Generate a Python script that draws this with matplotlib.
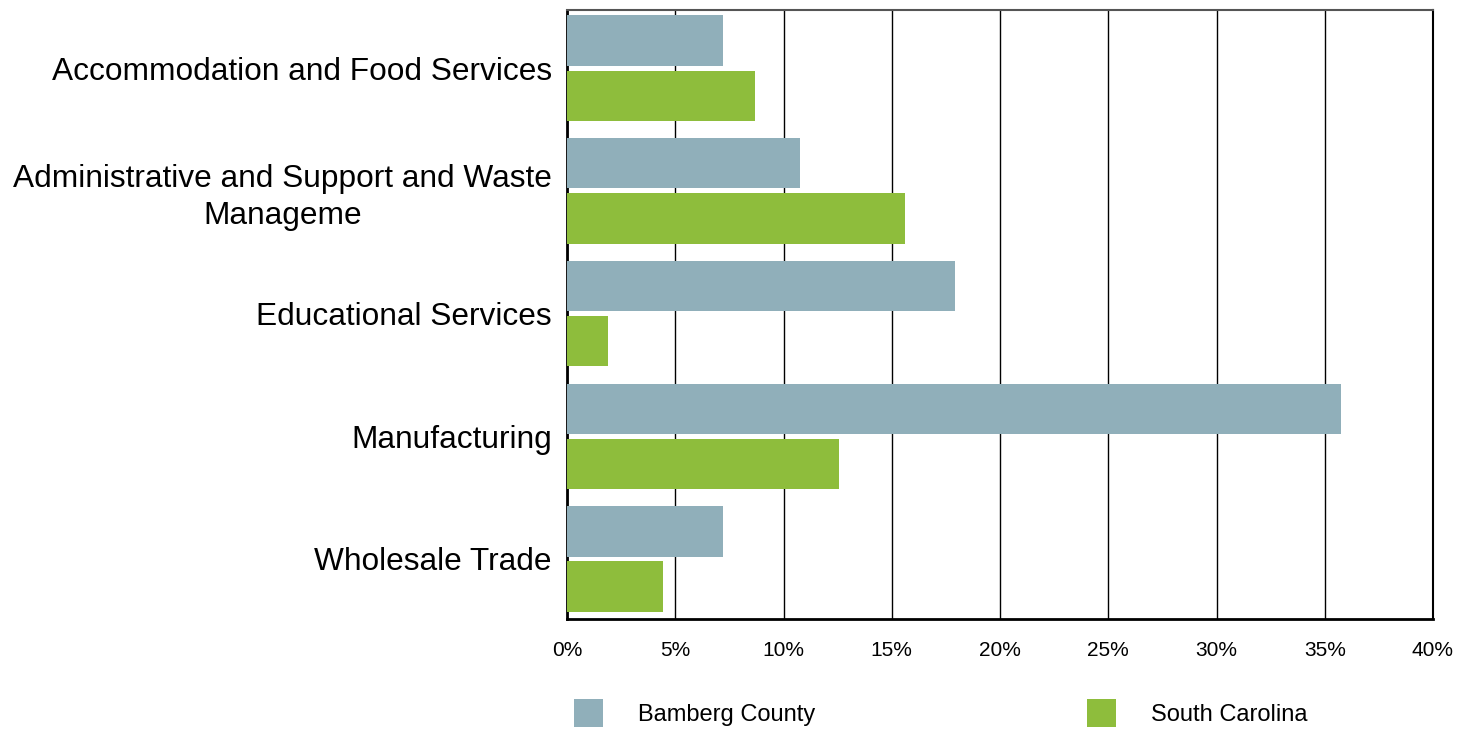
import matplotlib.pyplot as plt
import numpy as np

plt.rcParams['font.family'] = ['Liberation Sans', 'DejaVu Sans']

# data
categories = ['Accommodation and Food Services',
              'Administrative and Support and Waste\nManageme',
              'Educational Services',
              'Manufacturing',
              'Wholesale Trade']
bamberg = [7.2, 10.75, 17.9, 35.75, 7.2]
south_carolina = [8.7, 15.6, 1.9, 12.55, 4.45]
xticks = [0, 5, 10, 15, 20, 25, 30, 35, 40]
series_names = ['Bamberg County', 'South Carolina']

c_bam = '#90AFBA'
c_sc = '#8EBD3C'

fig = plt.figure(figsize=(14.73, 7.29), dpi=100)
ax = fig.add_axes([567/1473, 1 - 619/729, (1433-567)/1473, (619-10)/729])

y = np.arange(len(categories))
h = 0.41
ax.barh(y - 0.225, bamberg, height=h, color=c_bam, label=series_names[0], zorder=3)
ax.barh(y + 0.225, south_carolina, height=h, color=c_sc, label=series_names[1], zorder=3)

ax.set_xlim(0, 40)
ax.set_ylim(4.489, -0.474)
ax.set_xticks(xticks)
ax.set_xticklabels([f'{t}%' for t in xticks], fontsize=15)
ax.set_yticks(y)
ax.set_yticklabels(categories, fontsize=22.8, linespacing=1.3)
for lab in ax.get_yticklabels():
    lab.set_multialignment('center')
ax.tick_params(axis='y', length=0, pad=11)
ax.tick_params(axis='x', length=0, pad=16)
ax.xaxis.grid(True, color='black', linewidth=1.0, zorder=0)

ax.spines['left'].set_linewidth(2)
ax.spines['bottom'].set_linewidth(2)
ax.spines['right'].set_linewidth(1.5)
ax.spines['top'].set_color('#555555')
ax.spines['top'].set_linewidth(1.5)

fig.legend(loc='center left', bbox_to_anchor=(574/1473, 1 - 713/729),
           ncol=2, frameon=False, fontsize=17, borderpad=0, borderaxespad=0,
           handlelength=1.23, handleheight=1.45, handletextpad=1.48,
           columnspacing=11.5)

fig.savefig('out.png', dpi=100)
